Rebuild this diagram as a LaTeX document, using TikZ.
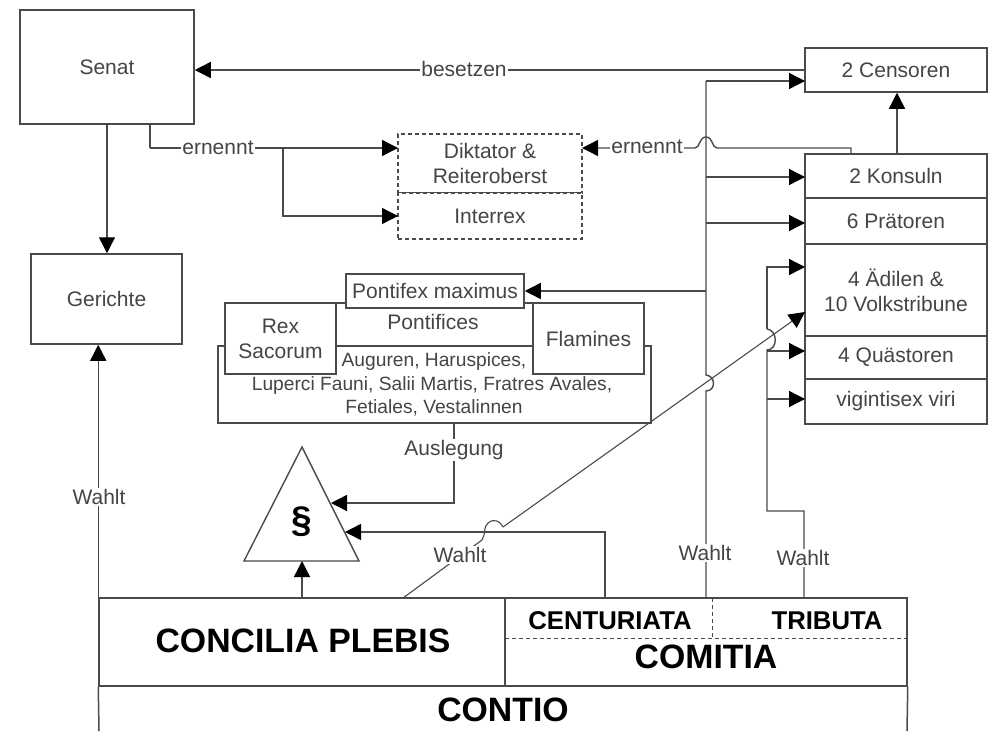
\documentclass[tikz,border=0pt]{standalone}
\usepackage{fontspec}
\setmainfont{Liberation Sans}
\usetikzlibrary{arrows.meta}
\definecolor{ln}{HTML}{4A4A4A}
\definecolor{tx}{HTML}{454545}
\newcommand{\bx}[7][]{%
  \pgfmathsetmacro{\bxw}{#5-#3}\pgfmathsetmacro{\bxh}{#6-#4}%
  \pgfmathsetmacro{\bxcx}{(#5+#3)/2}\pgfmathsetmacro{\bxcy}{(#6+#4)/2}%
  \node[boxn,#1,minimum width=\bxw pt,minimum height=\bxh pt] (#2) at (\bxcx,\bxcy) {#7};}
\tikzset{
  x=1pt,y=-1pt,
  boxn/.style={draw=ln,fill=white,line width=1.5pt,inner sep=0pt,align=center,text=tx,font=\fontsize{21}{25}\selectfont},
  dashbox/.style={line width=1.2pt,dash pattern=on 4pt off 3pt},
  conn/.style={draw=ln,line width=1.4pt},
  arr/.style={conn,-{Triangle[length=16pt,width=16pt,color=black]}},
  lab/.style={fill=white,inner sep=1pt,text=tx,font=\fontsize{21}{24}\selectfont},
  plain/.style={inner sep=0pt,text=tx,align=center,font=\fontsize{21}{25}\selectfont},
  small/.style={inner sep=0pt,text=tx,align=center,font=\fontsize{19.2}{23}\selectfont},
  big/.style={inner sep=0pt,text=black,font=\fontsize{33.8}{36}\bfseries\selectfont},
  mid/.style={inner sep=0pt,text=black,font=\fontsize{25.7}{28}\bfseries\selectfont},
}
\begin{document}
\begin{tikzpicture}
\useasboundingbox (0,0) rectangle (993,731);
\clip (0,0) rectangle (993,731);
\fill[white] (0,0) rectangle (993,731);

% boxes
\bx{senat}{20}{10}{194}{124}{Senat}
\bx{ger}{31}{254}{182}{344}{Gerichte}
\bx{cens}{805}{48}{987}{92}{2 Censoren}
\bx{kons}{805}{154}{987}{198}{2 Konsuln}
\bx{prae}{805}{198}{987}{244}{6 Prätoren}
\bx{aed}{805}{244}{987}{336}{4 Ädilen \&\\10 Volkstribune}
\bx{quae}{805}{336}{987}{379}{4 Quästoren}
\bx{vig}{805}{379}{987}{424}{vigintisex viri}
\bx[dashbox]{dikt}{398}{134}{582}{193}{Diktator \&\\Reiteroberst}
\bx[dashbox]{inter}{398}{193}{582}{239}{Interrex}
\bx{priest}{218}{346}{651}{423}{}
\bx{pontif}{336}{303}{533}{346}{}
\bx{rex}{225}{303}{336}{374}{Rex\\Sacorum}
\bx{flam}{533}{303}{644}{374}{Flamines}
\bx{pmax}{346}{274}{524}{308}{Pontifex maximus}
\node[plain] (ptxt) at (433,322) {Pontifices};
\node[small] (augtxt) at (434,362) {Auguren, Haruspices,};
\node[small] (luptxt) at (432,386) {Luperci Fauni, Salii Martis, Fratres Avales,};
\node[small] (fettxt) at (434,408) {Fetiales, Vestalinnen};

% assemblies
\bx{conc}{99}{598}{505}{686}{}
\bx{comi}{505}{598}{907}{686}{}
\node[big] (conctxt) at (303,641) {CONCILIA PLEBIS};
\node[mid] (centxt) at (610,621) {CENTURIATA};
\node[mid] (tritxt) at (827,621) {TRIBUTA};
\node[big] (comtxt) at (706,657) {COMITIA};
\node[big] (contxt) at (503,710) {CONTIO};
\coordinate (dl) at (505,638);
\coordinate (dr) at (907,638);
\coordinate (dt) at (712,598);
\coordinate (db) at (712,638);
\draw[conn,dashbox,line width=1pt] (dl) -- (dr);
\draw[conn,dashbox,line width=1pt] (dt) -- (db);
\coordinate (cl) at (99,731);
\coordinate (cr) at (907,731);
\draw[conn,line width=1.5pt] (conc.south west) -- (cl);
\draw[conn,line width=1.5pt] (comi.south east) -- (cr);

% triangle
\coordinate (ta) at (302,447);
\coordinate (tl) at (244,561);
\coordinate (tr) at (359,561);
\draw[conn,line join=miter] (ta) -- (tl) -- (tr) -- cycle;
\node[inner sep=0pt,text=black,font=\fontsize{37}{40}\bfseries\selectfont] (par) at (302,522) {§};

% connectors
\coordinate (a1) at (805,70);
\coordinate (sx) at (107,124);
\coordinate (kx) at (897,154);
\coordinate (py) at (706,291);
\draw[arr] (a1) -- (senat.east |- a1);
\draw[arr] (sx) -- (sx |- ger.north);
\draw[arr] (conc.north west) -- (conc.north west |- ger.south);
\coordinate (e1) at (150,124);
\coordinate (e0) at (150,148);
\draw[conn] (e1) -- (e0);
\draw[arr] (e0) -- (398,148);
\draw[arr] (283,148) -- (283,216) -- (398,216);
\draw[arr] (851,154) -- (851,148) -- (717,148)
  .. controls (712,148) and (713,137) .. (706,137)
  .. controls (699,137) and (700,148) .. (695,148) -- (582,148);
\draw[arr] (kx) -- (kx |- cens.south);

% main Wahl line
\draw[conn] (706,598) -- (706,391)
  .. controls (716,391) and (716,376) .. (706,375) -- (706,81);
\draw[arr] (706,81) -- (805,81);
\draw[arr] (706,177) -- (805,177);
\draw[arr] (706,223) -- (805,223);
\draw[arr] (py) -- (pmax.east |- py);

% second Wahl line
\draw[conn] (804,598) -- (804,511) -- (767,511) -- (767,350)
  .. controls (778,350) and (778,330) .. (767,329);
\draw[arr] (767,329) -- (767,267) -- (805,267);
\draw[arr] (767,351) -- (805,351);
\draw[arr] (767,399) -- (805,399);

% others
\draw[arr] (454,423) -- (454,503) -- (331,503);
\draw[arr] (605,598) -- (605,532) -- (345,532);
\draw[arr] (302,598) -- (302,561);
\draw[conn,line width=1.1pt] (403,598) -- (482,540)
  .. controls (486,534) and (483,527) .. (488,523)
  .. controls (494,518) and (500,521) .. (503,527);
\draw[arr,line width=1.1pt] (503,527) -- (805,312);

% labels
\node[lab] (l1) at (464,69) {besetzen};
\node[lab] (l2) at (218,148) {ernennt};
\node[lab] (l3) at (647,147) {ernennt};
\node[lab] (l4) at (454,450) {Auslegung};
\node[lab] (l5) at (99,497) {Wahlt};
\node[lab] (l6) at (460,555) {Wahlt};
\node[lab] (l7) at (705,553) {Wahlt};
\node[lab] (l8) at (803,558) {Wahlt};
\end{tikzpicture}
\end{document}
